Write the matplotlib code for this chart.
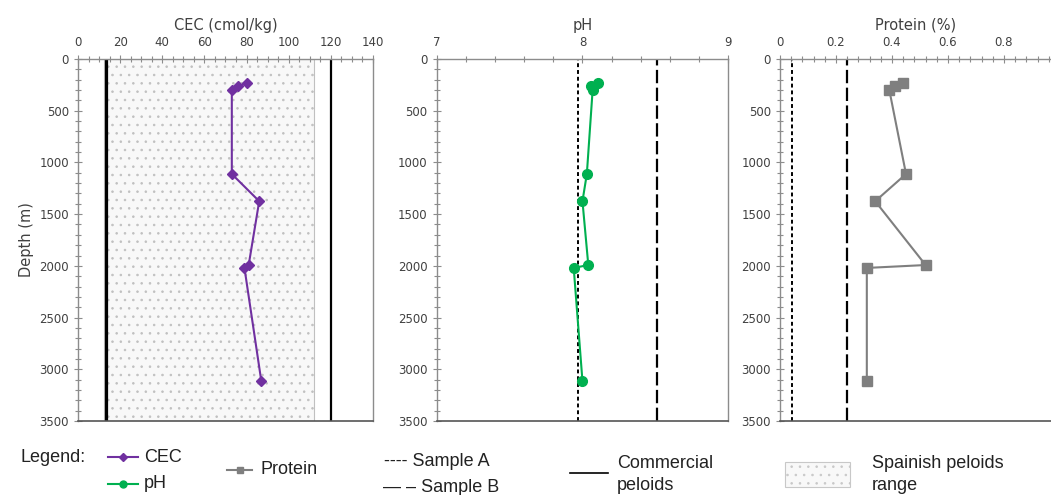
import matplotlib.pyplot as plt
from matplotlib.lines import Line2D
from matplotlib.patches import Rectangle
from matplotlib.ticker import MultipleLocator

plt.rcParams['hatch.color'] = '#bdbdbd'
plt.rcParams['hatch.linewidth'] = 0.6

# -------------------------------
# data
# -------------------------------
depth = [235, 265, 295, 1112, 1375, 1992, 2020, 3115]
cec = [80, 76, 73, 73, 86, 81, 79, 87]
ph = [8.11, 8.06, 8.07, 8.03, 8.00, 8.04, 7.94, 8.00]
protein = [0.44, 0.41, 0.39, 0.45, 0.34, 0.52, 0.31, 0.31]

# reference lines: sample A, sample B, commercial peloids
cec_sample_a, cec_sample_b, cec_commercial = 13.2, 13.9, 120
cec_spanish_range = (12.5, 112)
ph_sample_a, ph_sample_b = 7.97, 8.51
protein_sample_a, protein_sample_b = 0.042, 0.24

GRAY = '#8c8c8c'
TXT = '#404040'

fig = plt.figure(figsize=(10.51, 4.95), dpi=100)

bottom, height = 0.1495, 0.7313
ax1 = fig.add_axes([0.0742, bottom, 0.2807, height])
ax2 = fig.add_axes([0.4155, bottom, 0.2774, height])
ax3 = fig.add_axes([0.7422, bottom, 0.2578, height])


def style(ax, xmin, xmax, major, minor, title, right=True):
    ax.set_xlim(xmin, xmax)
    ax.set_ylim(3500, 0)
    ax.xaxis.tick_top()
    ax.xaxis.set_major_locator(MultipleLocator(major))
    ax.xaxis.set_minor_locator(MultipleLocator(minor))
    ax.yaxis.set_major_locator(MultipleLocator(500))
    ax.yaxis.set_minor_locator(MultipleLocator(100))
    ax.tick_params(which='both', direction='inout', color=GRAY, labelcolor=TXT,
                   labelsize=8.5, width=0.8)
    ax.tick_params(which='major', length=6)
    ax.tick_params(which='minor', length=4)
    ax.tick_params(axis='x', which='both', top=True, bottom=False, pad=4)
    for s in ['top', 'left', 'right', 'bottom']:
        ax.spines[s].set_color(GRAY)
        ax.spines[s].set_linewidth(1.0)
    ax.spines['bottom'].set_color('#555555')
    ax.spines['bottom'].set_linewidth(1.2)
    if not right:
        ax.spines['right'].set_visible(False)
    ax.set_title(title, fontsize=10.5, color=TXT, pad=21)


# CEC
style(ax1, 0, 140, 20, 5, 'CEC (cmol/kg)')
ax1.axvspan(*cec_spanish_range, facecolor='#f8f8f8', edgecolor='#c0c0c0',
            hatch='..', linewidth=0.8, zorder=0)
ax1.axvline(cec_sample_a, color='black', lw=1.6)
ax1.axvline(cec_sample_b, color='black', lw=1.6)
ax1.axvline(cec_commercial, color='black', lw=1.6)
ax1.plot(cec, depth, color='#7030a0', marker='D', markersize=5.5, lw=1.5)
ax1.set_ylabel('Depth (m)', fontsize=10.5, color=TXT)

# pH
style(ax2, 7, 9, 1, 0.2, 'pH')
ax2.axvline(ph_sample_a, color='black', lw=1.4, linestyle=(0, (2, 1.5)))
ax2.axvline(ph_sample_b, color='black', lw=1.6, linestyle=(0, (6, 2)))
ax2.plot(ph, depth, color='#00b050', marker='o', markersize=7, lw=1.5)

# Protein
style(ax3, 0, 0.968, 0.2, 0.04, 'Protein (%)', right=False)
ax3.set_xticks([0, 0.2, 0.4, 0.6, 0.8])
ax3.set_xticklabels(['0', '0.2', '0.4', '0.6', '0.8'])
ax3.axvline(protein_sample_a, color='black', lw=1.4, linestyle=(0, (2, 1.5)))
ax3.axvline(protein_sample_b, color='black', lw=1.6, linestyle=(0, (6, 2)))
ax3.plot(protein, depth, color='#7f7f7f', marker='s', markersize=7, lw=1.5)

# -------------------------------
# legend along the bottom
# -------------------------------
W, H = 1051.0, 495.0


def fx(px):
    return px / W


def fy(py):
    return 1 - py / H


lfont = dict(fontsize=13, family='Liberation Sans', color='#222222', va='center')
fig.text(fx(20), fy(457), 'Legend:', **lfont)

fig.add_artist(Line2D([fx(108), fx(138)], [fy(457), fy(457)], color='#7030a0',
                      lw=1.5, transform=fig.transFigure))
fig.add_artist(Line2D([fx(123)], [fy(457)], color='#7030a0', marker='D',
                      markersize=4, transform=fig.transFigure))
fig.text(fx(144), fy(457), 'CEC', **lfont)

fig.add_artist(Line2D([fx(108), fx(138)], [fy(484), fy(484)], color='#00b050',
                      lw=1.5, transform=fig.transFigure))
fig.add_artist(Line2D([fx(123)], [fy(484)], color='#00b050', marker='o',
                      markersize=5, transform=fig.transFigure))
fig.text(fx(144), fy(484), 'pH', **lfont)

fig.add_artist(Line2D([fx(227), fx(252)], [fy(470), fy(470)], color='#7f7f7f',
                      lw=1.5, transform=fig.transFigure))
fig.add_artist(Line2D([fx(239.5)], [fy(470)], color='#7f7f7f', marker='s',
                      markersize=5, transform=fig.transFigure))
fig.text(fx(260), fy(469), 'Protein', **lfont)

fig.text(fx(384), fy(462), '---- Sample A', **lfont)
fig.text(fx(383), fy(487), '\u2014 \u2013 Sample B', **lfont)

fig.add_artist(Line2D([fx(570), fx(608)], [fy(473), fy(473)], color='black',
                      lw=1.2, transform=fig.transFigure))
fig.text(fx(617), fy(463), 'Commercial', **lfont)
fig.text(fx(617), fy(486), 'peloids', **lfont)

fig.add_artist(Rectangle((fx(785), fy(487)), fx(850) - fx(785), fy(462) - fy(487),
                         facecolor='#f8f8f8', edgecolor='#c8c8c8', hatch='..',
                         lw=0.8, transform=fig.transFigure))
fig.text(fx(872), fy(464), 'Spainish peloids', **lfont)
fig.text(fx(872), fy(486), 'range', **lfont)

fig.savefig('out.png', dpi=100)
